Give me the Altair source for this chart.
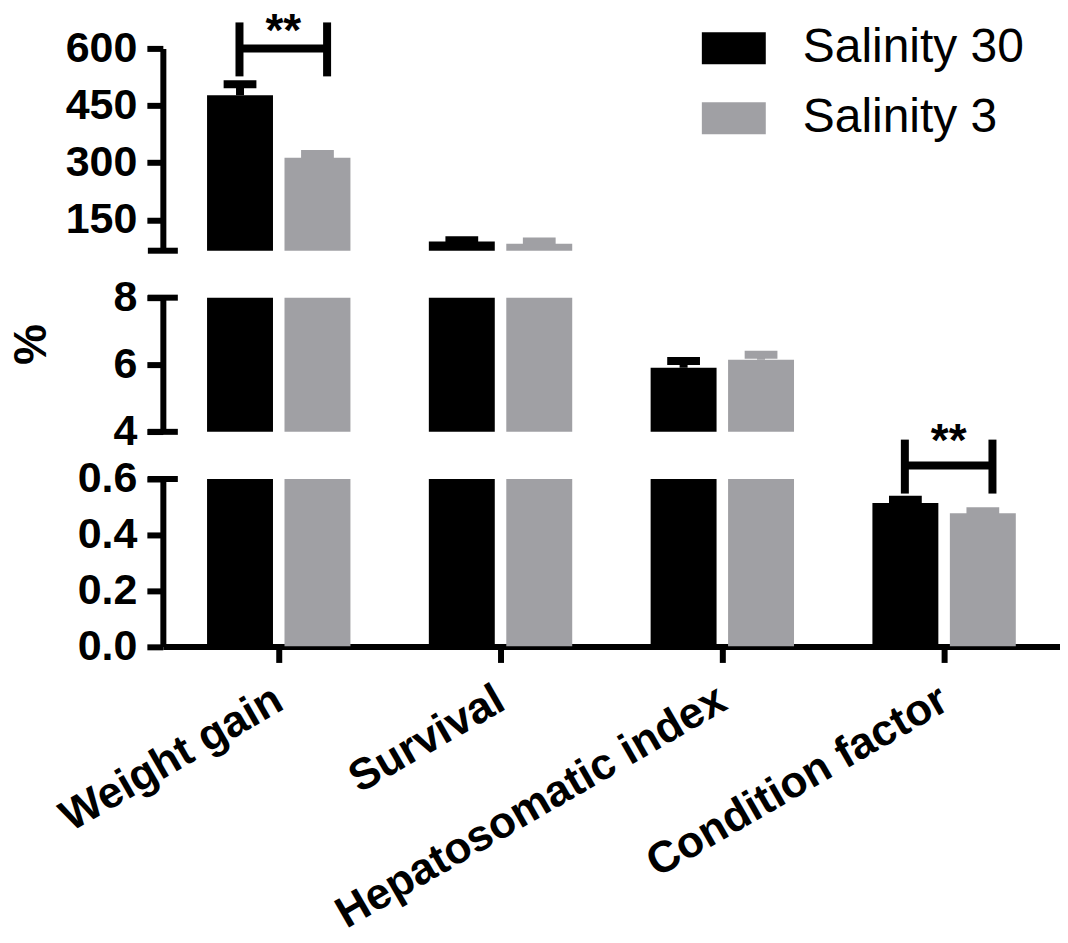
import json
import altair as alt
import pandas as pd

# ---------------- data ----------------
categories = ["Weight gain", "Survival", "Hepatosomatic index", "Condition factor"]
series_names = ["Salinity 30", "Salinity 3"]
salinity30_mean = [477, 93.4, 5.91, 0.514]
salinity30_sd = [29, 3.0, 0.20, 0.012]
salinity3_mean = [313, 87.5, 6.15, 0.477]
salinity3_sd = [10, 6.0, 0.15, 0.007]
bar_colors = ["#000000", "#a0a0a4"]

sig_categories = ["Weight gain", "Condition factor"]
sig_levels = [600, 0.648]
sig_labels = ["**", "**"]

top_ticks = [150, 300, 450, 600]
mid_ticks = [4, 6, 8]
bot_ticks = [0.0, 0.2, 0.4, 0.6]

# ---------------- style constants ----------------
FONT = "Liberation Sans"
BAR_OFF = 0.1746
BR_L = -0.177
BR_R = 0.218

rows = []
for i, cat in enumerate(categories):
    for name, means, sds in ((series_names[0], salinity30_mean, salinity30_sd),
                             (series_names[1], salinity3_mean, salinity3_sd)):
        rows.append({"category": cat, "idx": i, "series": name,
                     "mean": means[i], "hi": means[i] + sds[i]})
df = pd.DataFrame(rows)

sig_df = pd.DataFrame({
    "category": sig_categories,
    "idx": [categories.index(c) for c in sig_categories],
    "level": sig_levels,
    "label": sig_labels,
})

label_expr = json.dumps(categories) + "[round(datum.value)]"
xscale = alt.Scale(domain=[-0.5, 3.5], nice=False, zero=False)

color_scale = alt.Scale(domain=series_names, range=bar_colors)
legend = alt.Legend(
    orient="none", legendX=539.5, legendY=-32.15, title=None,
    symbolType="M-1,-0.5H1V0.5H-1Z", symbolSize=4096, symbolStrokeWidth=0,
    symbolOpacity=1, labelFont=FONT, labelFontSize=48, labelColor="black",
    labelOffset=37, rowPadding=14, padding=0, labelLimit=600,
)

x_axis_bottom = alt.Axis(
    values=[0, 1, 2, 3], labelExpr=label_expr, grid=False, title=None,
    tickSize=16, tickWidth=6, tickColor="black", domainWidth=6, domainColor="black",
    labelAngle=330, labelAlign="right", labelBaseline="middle", labelPadding=34,
    labelFont=FONT, labelFontSize=44, labelFontWeight="bold", labelColor="black",
    labelLimit=1000, labelOverlap=False, labelFlush=False,
)


def y_axis(values, fmt, title=None):
    kw = dict(values=values, format=fmt, grid=False,
              tickSize=16, tickWidth=6, tickColor="black",
              domainWidth=6, domainColor="black",
              labelFont=FONT, labelFontSize=43, labelFontWeight="bold",
              labelColor="black", labelPadding=10, labelFlush=False,
              labelOverlap=False)
    if title:
        kw.update(title=title, titleFont=FONT, titleFontSize=46,
                  titleFontWeight="bold", titleColor="black",
                  titleX=-131.5, titleY=46.5, titleAngle=270,
                  titleAlign="center", titleBaseline="middle")
    else:
        kw.update(title=None)
    return alt.Axis(**kw)


def panel(domain, height, values, fmt, breaks, sig_cat=None, sig_dy=0,
          xaxis=None, title=None, anchor=False):
    yscale = alt.Scale(domain=domain, nice=False, zero=False)
    yax = y_axis(values, fmt, title)

    def X(field):
        return alt.X(field, type="quantitative", scale=xscale, axis=xaxis)

    def Y(field):
        return alt.Y(field, type="quantitative", scale=yscale, axis=yax)

    base = alt.Chart(df).transform_calculate(
        xpos=f"datum.idx + (datum.series == '{series_names[0]}' ? -{BAR_OFF} : {BAR_OFF})"
    )
    bars = base.mark_bar(size=66, clip=True).encode(
        x=X("xpos"), y=Y("mean"), y2=alt.datum(0),
        color=alt.Color("series:N", scale=color_scale, legend=legend),
    )
    stems = base.mark_rule(strokeWidth=8, clip=True).encode(
        x=X("xpos"), y=Y("mean"), y2=alt.Y2("hi"),
        color=alt.Color("series:N", scale=color_scale, legend=legend),
    )
    caps = base.mark_rule(strokeWidth=8, clip=True, xOffset=-16.4, x2Offset=16.4).encode(
        x=X("xpos"), x2=alt.X2("xpos"), y=Y("hi"),
        color=alt.Color("series:N", scale=color_scale, legend=legend),
    )
    brk = alt.Chart(pd.DataFrame({"b": breaks})).mark_rule(
        strokeWidth=6, color="black"
    ).encode(x=alt.value(-15), x2=alt.value(15), y=Y("b"))

    layers = [bars, stems, caps, brk]

    if anchor:
        # invisible element fixing the top-left corner of the drawing
        layers.append(
            alt.Chart(pd.DataFrame({"a": [0]})).mark_rule(
                strokeWidth=1, color="white", opacity=0
            ).encode(x=alt.value(-154.5), x2=alt.value(-153.5), y=alt.value(-38.5))
        )

    if sig_cat is not None:
        sbase = alt.Chart(sig_df).transform_filter(
            alt.datum.category == sig_cat
        ).transform_calculate(
            xl=f"datum.idx + ({BR_L})", xr=f"datum.idx + {BR_R}",
            xm=f"datum.idx + {(BR_L + BR_R) / 2}",
        )
        hline = sbase.mark_rule(strokeWidth=8, color="black").encode(
            x=X("xl"), x2=alt.X2("xr"), y=Y("level"))
        vl = sbase.mark_rule(strokeWidth=8, color="black",
                             yOffset=-26, y2Offset=28).encode(
            x=X("xl"), y=Y("level"), y2=alt.Y2("level"))
        vr = sbase.mark_rule(strokeWidth=8, color="black",
                             yOffset=-26, y2Offset=28).encode(
            x=X("xr"), y=Y("level"), y2=alt.Y2("level"))
        txt = sbase.mark_text(font=FONT, fontSize=46, fontWeight="bold",
                              baseline="alphabetic", align="center", dy=sig_dy,
                              color="black").encode(
            x=X("xm"), y=Y("level"), text="label:N")
        layers += [hline, vl, vr, txt]

    return alt.layer(*layers).properties(width=898, height=height)


top = panel([69, 600], 202.5, top_ticks, "d", [69], sig_cat="Weight gain",
            sig_dy=-2.4, anchor=True)
mid = panel([4, 8], 134.3, mid_ticks, "d", [4, 8], title="%")
bot = panel([0, 0.6], 167.6, bot_ticks, ".1f", [0.6], sig_cat="Condition factor",
            sig_dy=-10, xaxis=x_axis_bottom)

chart = alt.vconcat(top, mid, bot, spacing=46.5, bounds="flush").properties(
    padding=0,
    background="white",
).configure_view(stroke=None)

chart.save("out.html", embed_options={"renderer": "svg", "actions": False})
